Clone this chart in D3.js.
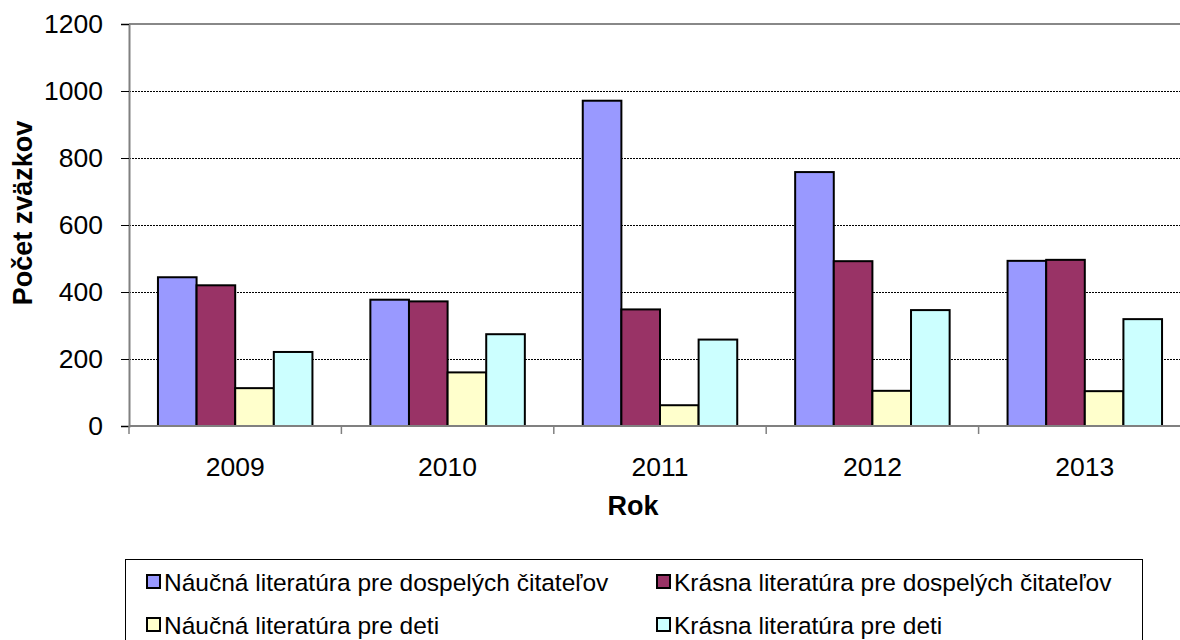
<!DOCTYPE html>
<html>
<head>
<meta charset="utf-8">
<script src="https://cdn.jsdelivr.net/npm/d3@7"></script>
<style>
  html, body { margin: 0; padding: 0; background: #fff; }
  svg { display: block; font-family: "Liberation Sans", Arial, sans-serif; }
</style>
</head>
<body>
<svg id="chart" width="1180" height="640"></svg>
<script>
// data
const years = ['2009', '2010', '2011', '2012', '2013'];
const seriesNames = [
    'Náučná literatúra pre dospelých čitateľov',
    'Krásna literatúra pre dospelých čitateľov',
    'Náučná literatúra pre deti',
    'Krásna literatúra pre deti'
];
const naucnaDospeli = [444, 377, 971, 758, 493];
const krasnaDospeli = [420, 372, 348, 492, 496];
const naucnaDeti = [113, 160, 62, 105, 104];
const krasnaDeti = [221, 274, 258, 346, 319];
const yTicks = [0, 200, 400, 600, 800, 1000, 1200];
const colors = ['#9999ff', '#993366', '#ffffcc', '#ccffff'];

const seriesValues = [naucnaDospeli, krasnaDospeli, naucnaDeti, krasnaDeti];

const svg = d3.select('#chart');

const plot = { left: 129, right: 1191, top: 24, bottom: 426 };

let x0 = d3.scaleBand()
    .domain(years)
    .range([plot.left, plot.right])
    .paddingInner(0.2727)
    .paddingOuter(0.13635);

let x1 = d3.scaleBand()
    .domain(d3.range(seriesNames.length))
    .range([0, x0.bandwidth()]);

let y = d3.scaleLinear()
    .domain([0, 1200])
    .range([plot.bottom, plot.top]);

// gridlines
svg.append('g')
    .selectAll('line')
    .data(yTicks.filter(t => t > 0 && t < 1200))
    .enter()
    .append('line')
    .attr('x1', plot.left)
    .attr('x2', plot.right)
    .attr('y1', d => y(d) + 0.5)
    .attr('y2', d => y(d) + 0.5)
    .attr('stroke', '#000')
    .attr('stroke-width', 1)
    .attr('stroke-dasharray', '2,1');

// top border of plot area
svg.append('line')
    .attr('x1', plot.left)
    .attr('x2', plot.right)
    .attr('y1', y(1200))
    .attr('y2', y(1200))
    .attr('stroke', '#888')
    .attr('stroke-width', 2);

// bars
let groups = svg.append('g')
    .selectAll('g')
    .data(years)
    .enter()
    .append('g')
    .attr('transform', d => `translate(${x0(d)},0)`);

groups.selectAll('rect')
    .data((d, i) => seriesValues.map((s, k) => ({ k: k, v: s[i] })))
    .enter()
    .append('rect')
    .attr('x', d => x1(d.k))
    .attr('y', d => y(d.v))
    .attr('width', x1.bandwidth())
    .attr('height', d => y(0) - y(d.v))
    .attr('fill', d => colors[d.k])
    .attr('stroke', '#000')
    .attr('stroke-width', 2);

// y axis
let yAxis = d3.axisLeft(y)
    .tickValues(yTicks)
    .tickFormat(d3.format('d'))
    .tickSize(8)
    .tickPadding(18);

let gy = svg.append('g')
    .attr('transform', `translate(${plot.left},0)`)
    .call(yAxis);

gy.select('.domain').attr('stroke', '#808080').attr('stroke-width', 2);
gy.selectAll('.tick line').attr('stroke', '#000').attr('stroke-width', 1);
gy.selectAll('.tick text')
    .attr('font-size', 26.5)
    .attr('font-family', '"Liberation Sans", Arial, sans-serif')
    .attr('fill', '#000');

// x axis, ticks at category boundaries
let xb = d3.scaleLinear().domain([0, years.length]).range([plot.left, plot.right]);
let gx = svg.append('g');

gx.append('line')
    .attr('x1', plot.left)
    .attr('x2', plot.right)
    .attr('y1', plot.bottom)
    .attr('y2', plot.bottom)
    .attr('stroke', '#808080')
    .attr('stroke-width', 2);

gx.selectAll('.xtick')
    .data(d3.range(years.length + 1))
    .enter()
    .append('line')
    .attr('x1', d => xb(d))
    .attr('x2', d => xb(d))
    .attr('y1', plot.bottom)
    .attr('y2', plot.bottom + 8)
    .attr('stroke', '#808080')
    .attr('stroke-width', 1.5);

gx.selectAll('.xlabel')
    .data(years)
    .enter()
    .append('text')
    .attr('x', d => x0(d) + x0.bandwidth() / 2)
    .attr('y', 476)
    .attr('text-anchor', 'middle')
    .attr('font-size', 26.5)
    .text(d => d);

// axis titles
svg.append('text')
    .attr('transform', 'translate(32,213) rotate(-90)')
    .attr('text-anchor', 'middle')
    .attr('font-size', 27)
    .attr('font-weight', 'bold')
    .text('Počet zväzkov');

svg.append('text')
    .attr('x', 633)
    .attr('y', 515)
    .attr('text-anchor', 'middle')
    .attr('font-size', 27)
    .attr('font-weight', 'bold')
    .text('Rok');

// legend
const legend = svg.append('g');

legend.append('rect')
    .attr('x', 125.5)
    .attr('y', 559.5)
    .attr('width', 1017)
    .attr('height', 100)
    .attr('fill', '#fff')
    .attr('stroke', '#000')
    .attr('stroke-width', 1);

const legendCols = [147, 657];
const legendRows = [582, 625];

let items = legend.selectAll('.item')
    .data(seriesNames)
    .enter()
    .append('g')
    .attr('transform', (d, i) => `translate(${legendCols[i % 2]},${legendRows[Math.floor(i / 2)]})`);

items.append('rect')
    .attr('x', 0)
    .attr('y', -7)
    .attr('width', 13)
    .attr('height', 13)
    .attr('fill', (d, i) => colors[i])
    .attr('stroke', '#000')
    .attr('stroke-width', 2);

items.append('text')
    .attr('x', 17)
    .attr('y', 8.5)
    .attr('font-size', 24.5)
    .text(d => d);
</script>
</body>
</html>
